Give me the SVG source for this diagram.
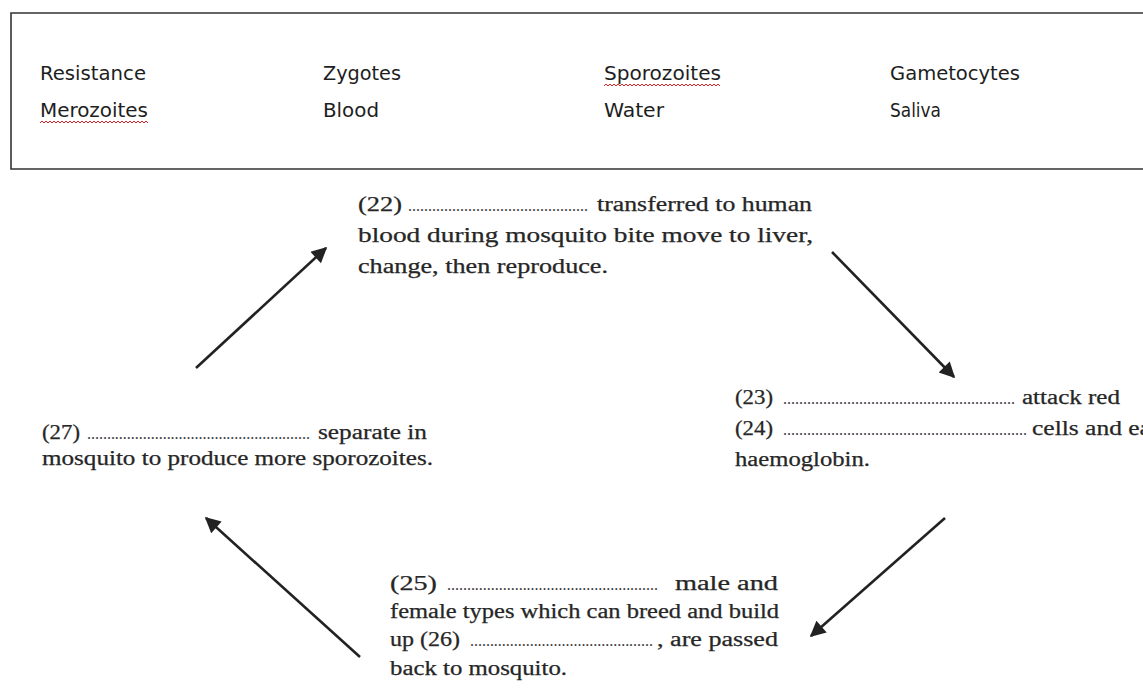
<svg xmlns="http://www.w3.org/2000/svg" width="1143" height="697" viewBox="0 0 1143 697">
<defs>
<style>
.w{font-family:"DejaVu Sans Condensed","DejaVu Sans","Liberation Sans",sans-serif;font-stretch:condensed;font-size:19px;fill:#1e1e1e}
.t{font-family:"Liberation Serif","Times New Roman",serif;font-size:20px;fill:#262626;stroke:#262626;stroke-width:0.25}
.d{font-family:"Liberation Serif","Times New Roman",serif;font-size:16px;fill:#3a3a3a}
.sq{fill:none;stroke:#d22;stroke-width:1}
.ar{stroke:#222;stroke-width:2.6;fill:none}
</style>
<marker id="ah" viewBox="0 0 10 10" refX="9" refY="5" markerWidth="7" markerHeight="6" markerUnits="strokeWidth" orient="auto">
<path d="M0,0 L10,5 L0,10 Z" fill="#222"/>
</marker>
</defs>
<rect width="1143" height="697" fill="#fff"/>
<g id="wordbox">
<path d="M1150,13 H11 V169 H1150" fill="none" stroke="#333" stroke-width="1.6"/>
<text class="w" x="40" y="80" textLength="106" lengthAdjust="spacingAndGlyphs">Resistance</text>
<text class="w" x="323" y="80" textLength="78" lengthAdjust="spacingAndGlyphs">Zygotes</text>
<text class="w" x="604" y="80" textLength="117" lengthAdjust="spacingAndGlyphs">Sporozoites</text>
<text class="w" x="890" y="80" textLength="130" lengthAdjust="spacingAndGlyphs">Gametocytes</text>
<text class="w" x="40" y="117" textLength="108" lengthAdjust="spacingAndGlyphs">Merozoites</text>
<text class="w" x="323" y="117" textLength="56" lengthAdjust="spacingAndGlyphs">Blood</text>
<text class="w" x="604" y="117" textLength="60" lengthAdjust="spacingAndGlyphs">Water</text>
<text class="w" x="890" y="117" textLength="51" lengthAdjust="spacingAndGlyphs">Saliva</text>
<path class="sq" d="M604,86 l2,-2 l2,2 l2,-2 l2,2 l2,-2 l2,2 l2,-2 l2,2 l2,-2 l2,2 l2,-2 l2,2 l2,-2 l2,2 l2,-2 l2,2 l2,-2 l2,2 l2,-2 l2,2 l2,-2 l2,2 l2,-2 l2,2 l2,-2 l2,2 l2,-2 l2,2 l2,-2 l2,2 l2,-2 l2,2 l2,-2 l2,2 l2,-2 l2,2 l2,-2 l2,2 l2,-2 l2,2 l2,-2 l2,2 l2,-2 l2,2 l2,-2 l2,2 l2,-2 l2,2 l2,-2 l2,2 l2,-2 l2,2 l2,-2 l2,2 l2,-2 l2,2 l2,-2 l2,2"/>
<path class="sq" d="M40,123 l2,-2 l2,2 l2,-2 l2,2 l2,-2 l2,2 l2,-2 l2,2 l2,-2 l2,2 l2,-2 l2,2 l2,-2 l2,2 l2,-2 l2,2 l2,-2 l2,2 l2,-2 l2,2 l2,-2 l2,2 l2,-2 l2,2 l2,-2 l2,2 l2,-2 l2,2 l2,-2 l2,2 l2,-2 l2,2 l2,-2 l2,2 l2,-2 l2,2 l2,-2 l2,2 l2,-2 l2,2 l2,-2 l2,2 l2,-2 l2,2 l2,-2 l2,2 l2,-2 l2,2 l2,-2 l2,2 l2,-2 l2,2 l2,-2 l2,2"/>
</g>
<g id="step22">
<text class="t" x="358" y="211" textLength="44" lengthAdjust="spacingAndGlyphs">(22)</text>
<text class="d" x="408" y="211" textLength="180" lengthAdjust="spacing">.............................................</text>
<text class="t" x="597" y="211" textLength="215" lengthAdjust="spacingAndGlyphs">transferred to human</text>
<text class="t" x="358" y="242" textLength="455" lengthAdjust="spacingAndGlyphs">blood during mosquito bite move to liver,</text>
<text class="t" x="358" y="273" textLength="250" lengthAdjust="spacingAndGlyphs">change, then  reproduce.</text>
</g>
<g id="step23">
<text class="t" x="735" y="404" textLength="38" lengthAdjust="spacingAndGlyphs">(23)</text>
<text class="d" x="783" y="404" textLength="232" lengthAdjust="spacing">..........................................................</text>
<text class="t" x="1022" y="404" textLength="98" lengthAdjust="spacingAndGlyphs">attack red</text>
<text class="t" x="735" y="435" textLength="38" lengthAdjust="spacingAndGlyphs">(24)</text>
<text class="d" x="783" y="435" textLength="244" lengthAdjust="spacing">.............................................................</text>
<text class="t" x="1032" y="435" textLength="126" lengthAdjust="spacingAndGlyphs">cells and eat</text>
<text class="t" x="735" y="466" textLength="135" lengthAdjust="spacingAndGlyphs">haemoglobin.</text>
</g>
<g id="step25">
<text class="t" x="390" y="590" textLength="47" lengthAdjust="spacingAndGlyphs">(25)</text>
<text class="d" x="447" y="590" textLength="211" lengthAdjust="spacing">.....................................................</text>
<text class="t" x="675" y="590" textLength="103" lengthAdjust="spacingAndGlyphs">male  and</text>
<text class="t" x="390" y="618" textLength="389" lengthAdjust="spacingAndGlyphs">female types which can breed and build</text>
<text class="t" x="390" y="646" textLength="70" lengthAdjust="spacingAndGlyphs">up (26)</text>
<text class="d" x="470" y="646" textLength="183" lengthAdjust="spacing">..............................................</text>
<text class="t" x="657" y="646" textLength="121" lengthAdjust="spacingAndGlyphs">, are passed</text>
<text class="t" x="390" y="675" textLength="177" lengthAdjust="spacingAndGlyphs">back to mosquito.</text>
</g>
<g id="step27">
<text class="t" x="42" y="439" textLength="38" lengthAdjust="spacingAndGlyphs">(27)</text>
<text class="d" x="87" y="439" textLength="223" lengthAdjust="spacing">........................................................</text>
<text class="t" x="318" y="439" textLength="109" lengthAdjust="spacingAndGlyphs">separate in</text>
<text class="t" x="42" y="465" textLength="391" lengthAdjust="spacingAndGlyphs">mosquito to produce more sporozoites.</text>
</g>
<g id="connectors">
<line class="ar" x1="196" y1="368" x2="326" y2="248" marker-end="url(#ah)"/>
<line class="ar" x1="832" y1="252" x2="954" y2="377" marker-end="url(#ah)"/>
<line class="ar" x1="945" y1="518" x2="811" y2="636" marker-end="url(#ah)"/>
<line class="ar" x1="360" y1="657" x2="206" y2="518" marker-end="url(#ah)"/>
</g>
</svg>
